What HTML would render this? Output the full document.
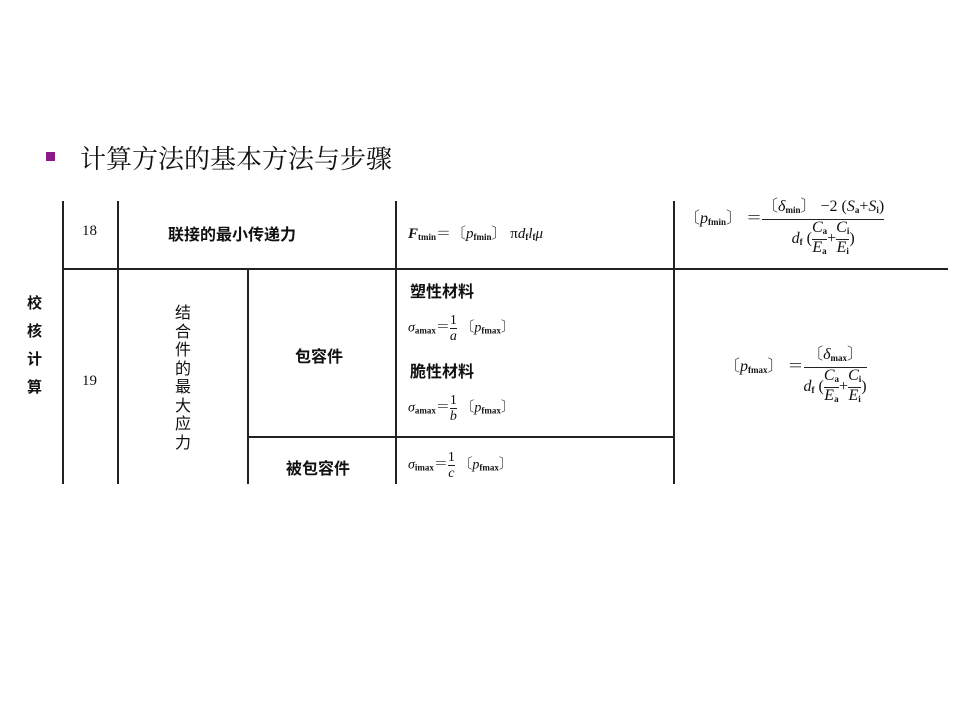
<!DOCTYPE html>
<html><head><meta charset="utf-8"><style>
body{margin:0;width:960px;height:720px;background:#fff;position:relative;overflow:hidden;font-family:"Liberation Serif","Noto Serif CJK SC",serif;color:#111}
.a{position:absolute;white-space:nowrap}
.l{position:absolute;background:#222}
.c{font-family:"Liberation Serif","Noto Sans CJK SC",sans-serif;font-weight:bold;font-size:16px}
i{font-style:italic}
sub{font-size:9px;vertical-align:-2px;font-weight:bold}
.fr{display:inline-block;text-align:center;vertical-align:middle}
.fr>span{display:block;line-height:15px}
.fr>.n{border-bottom:1.3px solid #222}
</style></head><body>
<div class="a" style="left:46px;top:152px;width:9px;height:9px;background:#8a1a8a"></div>
<div class="a" style="left:80px;top:139px;font-size:26px;font-family:'Liberation Serif','Noto Serif CJK SC',serif">计算方法的基本方法与步骤</div>

<div class="l" style="left:62px;top:201px;width:2px;height:283px"></div>
<div class="l" style="left:117px;top:201px;width:2px;height:283px"></div>
<div class="l" style="left:247px;top:268px;width:2px;height:216px"></div>
<div class="l" style="left:395px;top:201px;width:2px;height:283px"></div>
<div class="l" style="left:673px;top:201px;width:2px;height:283px"></div>
<div class="l" style="left:62px;top:268px;width:886px;height:2px"></div>
<div class="l" style="left:248px;top:436px;width:426px;height:2px"></div>

<div class="a" style="left:82px;top:223px;font-size:15px">18</div>
<div class="a" style="left:82px;top:373px;font-size:15px">19</div>
<div class="a c" style="left:168px;top:221px">联接的最小传递力</div>
<div class="a c" style="left:27px;top:290px;width:16px;line-height:28px;white-space:normal;font-size:15px">校核计算</div>
<div class="a c" style="left:175px;top:305px;width:16px;line-height:18.5px;white-space:normal;font-size:16px;font-weight:normal">结合件的最大应力</div>
<div class="a c" style="left:295px;top:343px">包容件</div>
<div class="a c" style="left:286px;top:455px">被包容件</div>
<div class="a c" style="left:410px;top:278px">塑性材料</div>
<div class="a c" style="left:410px;top:358px">脆性材料</div>

<div class="a" style="left:408px;top:222px;font-size:15px"><i><b>F</b></i><sub>tmin</sub>＝〔<i>p</i><sub>fmin</sub>〕 π<i>d</i><sub>f</sub><i>l</i><sub>f</sub><i>μ</i></div>

<div class="a" style="left:408px;top:313px;font-size:14px"><i>σ</i><sub>amax</sub>＝<span class="fr"><span class="n">1</span><span><i>a</i></span></span> 〔<i>p</i><sub>fmax</sub>〕</div>
<div class="a" style="left:408px;top:393px;font-size:14px"><i>σ</i><sub>amax</sub>＝<span class="fr"><span class="n">1</span><span><i>b</i></span></span> 〔<i>p</i><sub>fmax</sub>〕</div>
<div class="a" style="left:408px;top:450px;font-size:14px"><i>σ</i><sub>imax</sub>＝<span class="fr"><span class="n">1</span><span><i>c</i></span></span> 〔<i>p</i><sub>fmax</sub>〕</div>

<div class="a" style="left:684px;top:198px;font-size:16px">〔<i>p</i><sub>fmin</sub>〕 ＝<span class="fr" style="vertical-align:-20px"><span class="n" style="line-height:18px">〔<i>δ</i><sub>min</sub>〕 −2 (<i>S</i><sub>a</sub>+<i>S</i><sub>i</sub>)</span><span style="line-height:34px"><i>d</i><sub>f</sub> (<span class="fr"><span class="n"><i>C</i><sub>a</sub></span><span><i>E</i><sub>a</sub></span></span>+<span class="fr"><span class="n"><i>C</i><sub>i</sub></span><span><i>E</i><sub>i</sub></span></span>)</span></span></div>

<div class="a" style="left:724px;top:346px;font-size:16px">〔<i>p</i><sub>fmax</sub>〕 ＝<span class="fr" style="vertical-align:-20px"><span class="n" style="line-height:18px">〔<i>δ</i><sub>max</sub>〕</span><span style="line-height:34px"><i>d</i><sub>f</sub> (<span class="fr"><span class="n"><i>C</i><sub>a</sub></span><span><i>E</i><sub>a</sub></span></span>+<span class="fr"><span class="n"><i>C</i><sub>i</sub></span><span><i>E</i><sub>i</sub></span></span>)</span></span></div>
</body></html>
